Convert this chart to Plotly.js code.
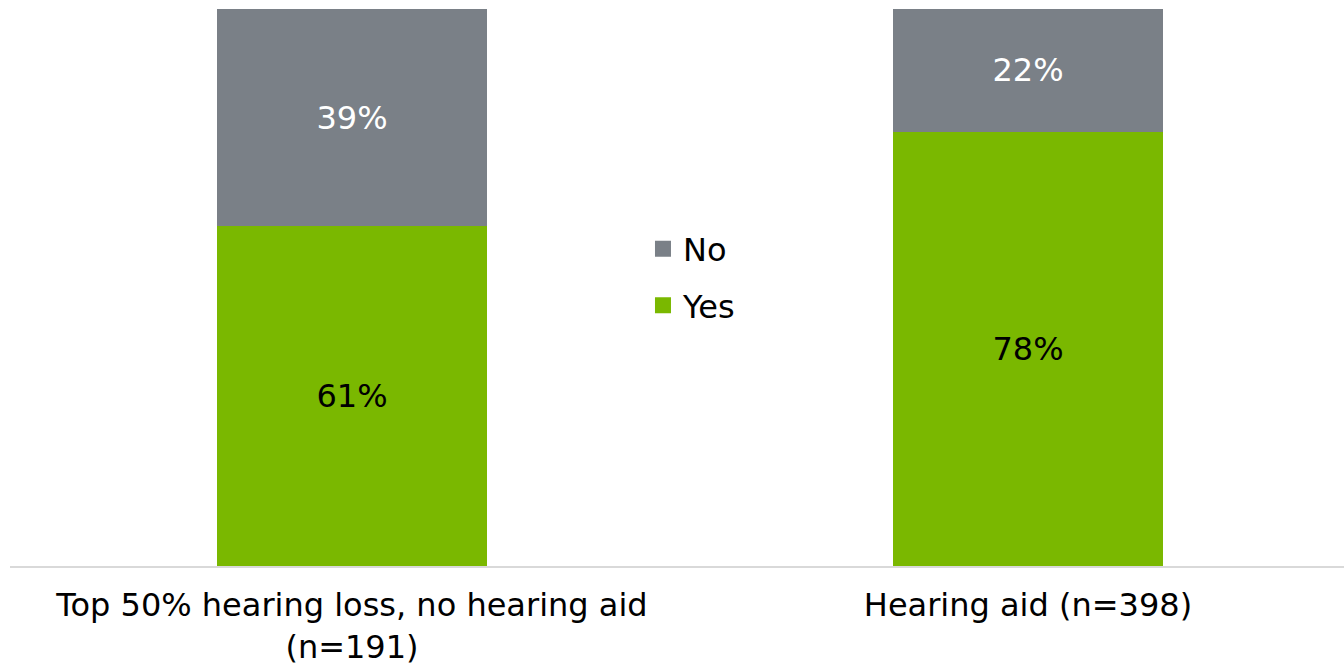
<!DOCTYPE html>
<html>
<head>
<meta charset="utf-8">
<script src="https://cdn.plot.ly/plotly-3.0.1.min.js"></script>
<style>html,body{margin:0;padding:0;background:#fff;}#chart{width:1344px;height:665px;}</style>
</head>
<body>
<div id="chart"></div>
<script>
const categories = ["Top 50% hearing loss, no hearing aid<br>(n=191)", "Hearing aid (n=398)"];
const yesValues = [61, 78];
const noValues = [39, 22];
const seriesNames = ["Yes", "No"];
const seriesColors = ["#7AB800", "#7A8087"];

const FONT = "DejaVu Sans, Verdana, sans-serif";

const traces = [
  {
    type: "bar", name: seriesNames[0], x: categories, y: yesValues,
    marker: {color: seriesColors[0]}, showlegend: false,
    text: yesValues.map(v => v + "%"), textposition: "inside", insidetextanchor: "middle",
    textfont: {family: FONT, size: 32, color: "#000000"}, hoverinfo: "skip"
  },
  {
    type: "bar", name: seriesNames[1], x: categories, y: noValues,
    marker: {color: seriesColors[1]}, showlegend: false,
    text: noValues.map(v => v + "%"), textposition: "inside", insidetextanchor: "middle",
    textfont: {family: FONT, size: 32, color: "#FFFFFF"}, hoverinfo: "skip"
  },
  // legend-only entries (larger square swatches), no visible data
  {
    type: "scatter", mode: "markers", name: seriesNames[1], x: [null], y: [null],
    marker: {symbol: "square", size: 16, color: seriesColors[1]},
    legendgroup: "gNo", showlegend: true, hoverinfo: "skip"
  },
  {
    type: "scatter", mode: "markers", name: seriesNames[0], x: [null], y: [null],
    marker: {symbol: "square", size: 16, color: seriesColors[0]},
    legendgroup: "gYes", showlegend: true, hoverinfo: "skip"
  }
];

const layout = {
  width: 1344, height: 665,
  margin: {l: 10, r: 0, t: 9, b: 99},
  paper_bgcolor: "#ffffff", plot_bgcolor: "#ffffff",
  barmode: "stack", bargap: 0.6006,
  font: {family: FONT, size: 32, color: "#000000"},
  xaxis: {
    type: "category", range: [-0.5059, 1.4675],
    showline: true, linecolor: "#D9D9D9", linewidth: 2,
    showgrid: false, zeroline: false, ticks: "",
    ticklabelstandoff: 10,
    tickfont: {family: FONT, size: 32, color: "#000000"},
    automargin: false
  },
  yaxis: {range: [0, 100], visible: false, showgrid: false, zeroline: false},
  showlegend: true,
  legend: {
    x: 0.4745, xanchor: "left", y: 0.518, yanchor: "middle",
    traceorder: "grouped", tracegroupgap: 12,
    font: {family: FONT, size: 32, color: "#000000"},
    bgcolor: "rgba(0,0,0,0)"
  }
};

Plotly.newPlot("chart", traces, layout, {staticPlot: true, displayModeBar: false});
</script>
</body>
</html>
